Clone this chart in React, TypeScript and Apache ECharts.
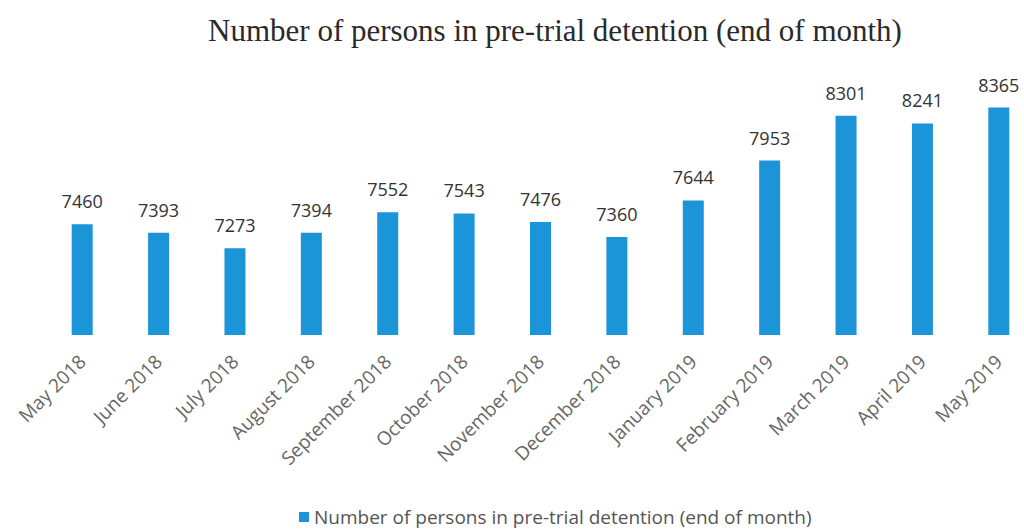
import React, { useEffect, useRef } from "react";
import * as echarts from "echarts";

const titleText = "Number of persons in pre-trial detention (end of month)";
const seriesName = "Number of persons in pre-trial detention (end of month)";
const months = [
  "May 2018", "June 2018", "July 2018", "August 2018", "September 2018",
  "October 2018", "November 2018", "December 2018", "January 2019",
  "February 2019", "March 2019", "April 2019", "May 2019",
];
const persons = [7460, 7393, 7273, 7394, 7552, 7543, 7476, 7360, 7644, 7953, 8301, 8241, 8365];
const yMin = 6600;
const yMax = 8400;

export default function App() {
  const ref = useRef<HTMLDivElement>(null);
  useEffect(() => {
    if (!ref.current) return;
    const chart = echarts.init(ref.current, null, { renderer: "svg" });
    chart.setOption({
      animation: false,
      backgroundColor: "#ffffff",
      title: {
        text: titleText,
        left: 550,
        top: 10,
        textAlign: "center",
        textStyle: {
          fontFamily: "Liberation Serif",
          fontWeight: "normal",
          fontSize: 31,
          color: "#2a2a2a",
        },
      },
      legend: {
        data: [seriesName],
        left: 294,
        top: 502,
        itemWidth: 10,
        itemHeight: 10,
        itemGap: 6,
        icon: "rect",
        textStyle: { fontFamily: "Open Sans", fontSize: 19, lineHeight: 20, color: "#555" },
      },
      grid: {
        left: 44,
        right: -13,
        top: 103,
        bottom: 530 - 335,
        containLabel: false,
        outerBoundsMode: "none",
      },
      xAxis: {
        type: "category",
        data: months,
        axisLine: { show: false },
        axisTick: { show: false },
        axisLabel: {
          rotate: 45,
          interval: 0,
          margin: 23,
          fontFamily: "Open Sans",
          fontSize: 19,
          color: "#666",
        },
      },
      yAxis: {
        type: "value",
        min: yMin,
        max: yMax,
        show: false,
        splitLine: { show: false },
      },
      series: [
        {
          name: seriesName,
          type: "bar",
          data: persons,
          barWidth: 21,
          itemStyle: { color: "#1c95d8" },
          label: {
            show: true,
            position: "top",
            distance: 14,
            fontFamily: "Open Sans",
            fontSize: 18,
            color: "#333",
          },
        },
      ],
    });
    return () => chart.dispose();
  }, []);
  return (
    <div
      ref={ref}
      style={{ position: "absolute", left: 0, top: 0, width: 1024, height: 530 }}
    />
  );
}
